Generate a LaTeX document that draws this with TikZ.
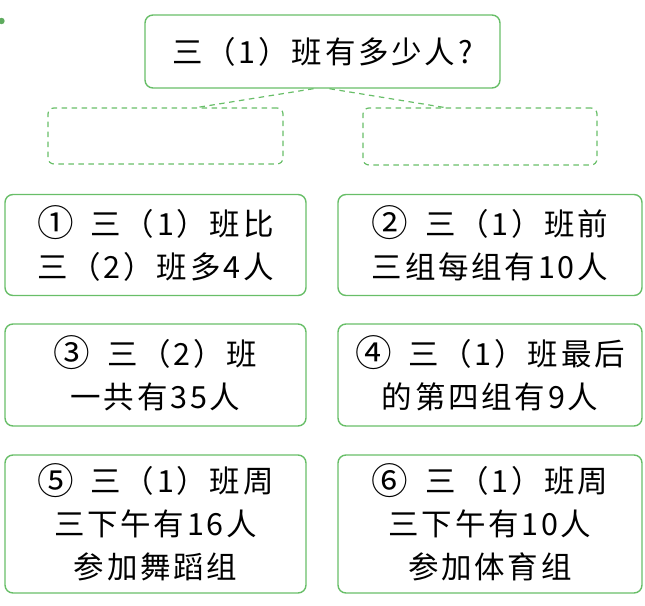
\documentclass[tikz,border=0pt]{standalone}
\usepackage{fontspec}
\setmainfont{Noto Sans CJK SC}[LetterSpace=9]
\usetikzlibrary{calc}
\definecolor{boxgreen}{RGB}{104,190,104}
\newcommand{\circnum}[1]{\smash{\raisebox{-0.05em}{\scalebox{1.2}{#1}}}\hspace{0.55em}}
\tikzset{
  card/.style={draw=boxgreen, line width=1.4pt, rounded corners=8pt, inner sep=0pt,
    align=center, font=\fontsize{30.5}{43}\selectfont, text=black},
  blank/.style={draw=boxgreen, line width=1.2pt, dash pattern=on 5.5pt off 4.5pt, rounded corners=6pt,
    inner sep=0pt},
  link/.style={draw=boxgreen, line width=1.2pt, dash pattern=on 5.5pt off 4.5pt}
}
\begin{document}
\begin{tikzpicture}[x=1pt,y=-1pt]
\useasboundingbox (0,0) rectangle (645,605);
\fill[boxgreen!90!black] (1.5,21) circle (3.2pt);
\node[card, minimum width=355pt, minimum height=73pt] (q) at (322.5,51.5) {三（1）班有多少人?};
\node[blank, minimum width=235pt, minimum height=56pt] (dl) at (165.5,136) {};
\node[blank, minimum width=234pt, minimum height=57pt] (dr) at (480,136.5) {};
\draw[link] ($(q.south)+(-9,0)$) -- ($(dl.north)+(32,0)$);
\draw[link] ($(q.south)+(7,0)$) -- ($(dr.north)+(-36,0)$);
\node[card, minimum width=301pt, minimum height=101pt] (c1) at (155.5,245) {\circnum{①}三（1）班比\\三（2）班多4人};
\node[card, minimum width=304pt, minimum height=101pt] (c2) at (490,245) {\circnum{②}三（1）班前\\三组每组有10人};
\node[card, minimum width=301pt, minimum height=102pt] (c3) at (155.5,375) {\circnum{③}三（2）班\\一共有35人};
\node[card, minimum width=304pt, minimum height=102pt] (c4) at (490,375) {\circnum{④}三（1）班最后\\的第四组有9人};
\node[card, minimum width=301pt, minimum height=138pt] (c5) at (155.5,524) {\circnum{⑤}三（1）班周\\三下午有16人\\参加舞蹈组};
\node[card, minimum width=304pt, minimum height=138pt] (c6) at (490,524) {\circnum{⑥}三（1）班周\\三下午有10人\\参加体育组};
\end{tikzpicture}
\end{document}
